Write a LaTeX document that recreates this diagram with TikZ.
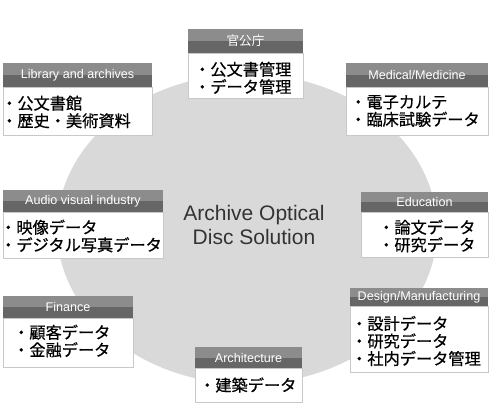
\documentclass[tikz,border=0pt]{standalone}
\usepackage{fontspec}
\setmainfont{Liberation Sans}
\newfontfamily\jpfont[FakeBold=0.6]{Noto Sans CJK JP}
\newfontfamily\jptitle{Noto Sans CJK JP}
\definecolor{circ}{HTML}{D9D9D9}
\definecolor{hdrlight}{HTML}{8C8C8C}
\definecolor{hdrdark}{HTML}{666666}
\definecolor{boxline}{HTML}{C8C8C8}
\definecolor{centertext}{HTML}{333333}
\tikzset{
  hdr/.style={anchor=north west, inner sep=0pt, outer sep=0pt, fill=hdrlight, text=white,
    font=\fontsize{12.6}{14}\selectfont,
    path picture={\fill[hdrdark] (path picture bounding box.south west) rectangle (path picture bounding box.east);}},
  body/.style={anchor=north west, inner sep=0pt, outer sep=0pt, fill=white, draw=boxline, line width=0.8pt},
  items/.style={anchor=west, inner sep=0pt, align=left, font=\jpfont\fontsize{16.2}{17.5}\selectfont},
}
% #1 name, #2 x left, #3 header top, #4 header bottom, #5 x right, #6 body bottom, #7 title
\newcommand\infobox[7]{%
  \node[body, minimum width=#5pt-#2pt, minimum height=#6pt-#4pt] (#1b) at (#2,#4) {};
  \node[hdr, minimum width=#5pt-#2pt, minimum height=#4pt-#3pt] (#1h) at (#2,#3) {#7};
}
\begin{document}
\begin{tikzpicture}[x=1pt, y=-1pt]
\useasboundingbox (0,0) rectangle (496,415);
\fill[white] (0,0) rectangle (496,415);
\fill[circ] (247,229) ellipse [x radius=190, y radius=155];
\node[font=\fontsize{21}{24}\selectfont, text=centertext, align=center, inner sep=0pt] (center) at (254,225) {Archive Optical\\Disc Solution};

\infobox{lib}{3}{63}{87}{152}{135}{Library and archives}
\node[items] (libt) at (1,112) {・公文書館\\・歴史・美術資料};

\infobox{gov}{188}{29}{53}{303}{98}{\jptitle 官公庁}
\node[items] (govt) at (194,78) {・公文書管理\\・データ管理};

\infobox{med}{346}{63}{87}{488}{135}{Medical/Medicine}
\node[items] (medt) at (350,111) {・電子カルテ\\・臨床試験データ};

\infobox{av}{3}{190}{212}{163}{258}{Audio visual industry}
\node[items] (avt) at (0,236) {・映像データ\\・デジタル写真データ};

\infobox{edu}{361}{192}{212}{488}{257}{Education}
\node[items] (edut) at (378,236) {・論文データ\\・研究データ};

\infobox{fin}{3}{296}{318}{133}{367}{Finance}
\node[items] (fint) at (13,341) {・顧客データ\\・金融データ};

\infobox{des}{350}{288}{306}{488}{372}{Design/Manufacturing}
\node[items] (dest) at (351,341) {・設計データ\\・研究データ\\・社内データ管理};

\infobox{arc}{195}{347}{368}{302}{402}{Architecture}
\node[items] (arct) at (199,385) {・建築データ};
\end{tikzpicture}
\end{document}
